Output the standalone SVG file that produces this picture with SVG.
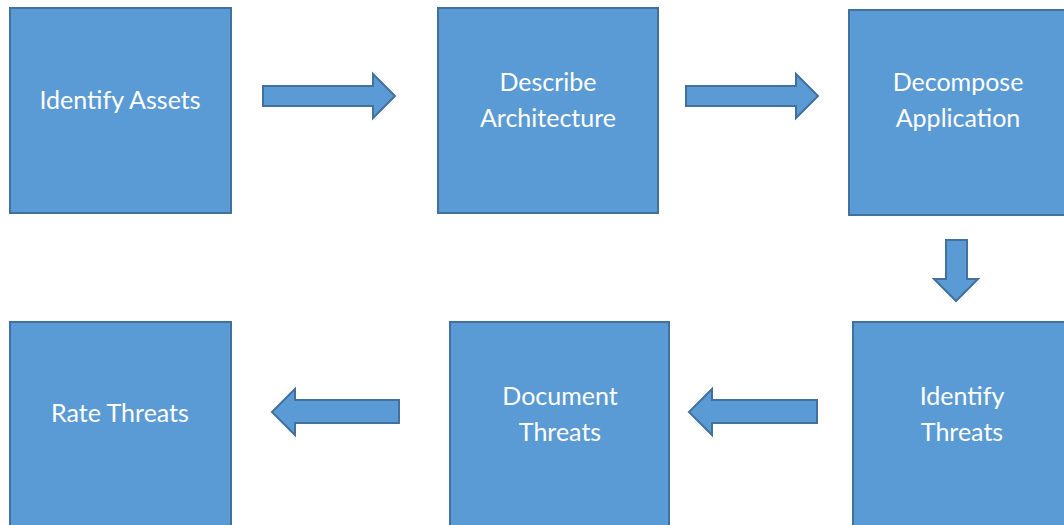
<svg xmlns="http://www.w3.org/2000/svg" width="1064" height="525" viewBox="0 0 1064 525">
<style>
.box{fill:#5B9BD5;stroke:#41719C;stroke-width:2}
.arr{fill:#5B9BD5;stroke:#41719C;stroke-width:2;stroke-linejoin:miter}
.t{font-family:Lato,"Open Sans",sans-serif;font-size:25px;fill:#ffffff;text-anchor:middle;dominant-baseline:central}
</style>
<rect width="1064" height="525" fill="#ffffff"/>
<g id="identify-assets"><rect class="box" x="10" y="8" width="221" height="205"/><text class="t" x="120" y="99">Identify Assets</text></g>
<g id="describe-architecture"><rect class="box" x="438" y="8" width="220" height="205"/><text class="t" x="548" y="81">Describe</text><text class="t" x="548" y="117">Architecture</text></g>
<g id="decompose-application"><rect class="box" x="849" y="10" width="225" height="205"/><text class="t" x="958" y="81">Decompose</text><text class="t" x="958" y="117">Application</text></g>
<g id="identify-threats"><rect class="box" x="853" y="322" width="221" height="215"/><text class="t" x="962" y="395">Identify</text><text class="t" x="962" y="431">Threats</text></g>
<g id="document-threats"><rect class="box" x="450" y="322" width="219" height="215"/><text class="t" x="560" y="395">Document</text><text class="t" x="560" y="431">Threats</text></g>
<g id="rate-threats"><rect class="box" x="10" y="322" width="221" height="215"/><text class="t" x="120" y="412">Rate Threats</text></g>
<g id="connectors">
<path class="arr" d="M263,86 L373,86 L373,74 L395,96 L373,118 L373,106 L263,106 Z"/>
<path class="arr" d="M686,86 L796,86 L796,74 L818,96 L796,118 L796,106 L686,106 Z"/>
<path class="arr" d="M946,240 L967,240 L967,279 L978,279 L956,301 L934,279 L946,279 Z"/>
<path class="arr" d="M817,400 L712,400 L712,389 L689,412 L712,435 L712,423 L817,423 Z"/>
<path class="arr" d="M399,400 L295,400 L295,389 L272,412 L295,435 L295,423 L399,423 Z"/>
</g>
</svg>
